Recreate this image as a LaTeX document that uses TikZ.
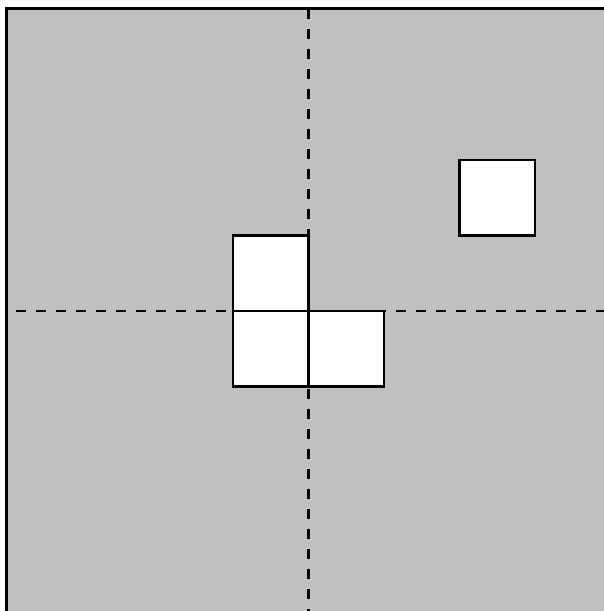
\documentclass[tikz,border=0pt]{standalone}
\definecolor{bggray}{RGB}{192,192,192}
\begin{document}
\begin{tikzpicture}[x=75.5pt,y=-75.5pt,
  cellbox/.style={draw=black,fill=white,line width=2.4pt},
  axisline/.style={draw=black,line width=2.4pt,dash pattern=on 10pt off 10pt}]
\useasboundingbox (-4.086,-4.119) rectangle (3.914,3.974);
\clip (-4.086,-4.119) rectangle (3.914,3.974);
\fill[white] (-4.086,-4.119) rectangle (3.914,3.974);
\draw[fill=bggray,line width=3pt] (-4,-4) rectangle (4,4);
\draw[axisline,dash phase=10pt] (-4,0) -- (4,0);
\draw[axisline] (0,-4) -- (0,4);
\draw[cellbox] (-1,-1) rectangle (0,0);
\draw[cellbox] (-1,0) rectangle (0,1);
\draw[cellbox] (0,0) rectangle (1,1);
\draw[cellbox] (2,-2) rectangle (3,-1);
\end{tikzpicture}
\end{document}
